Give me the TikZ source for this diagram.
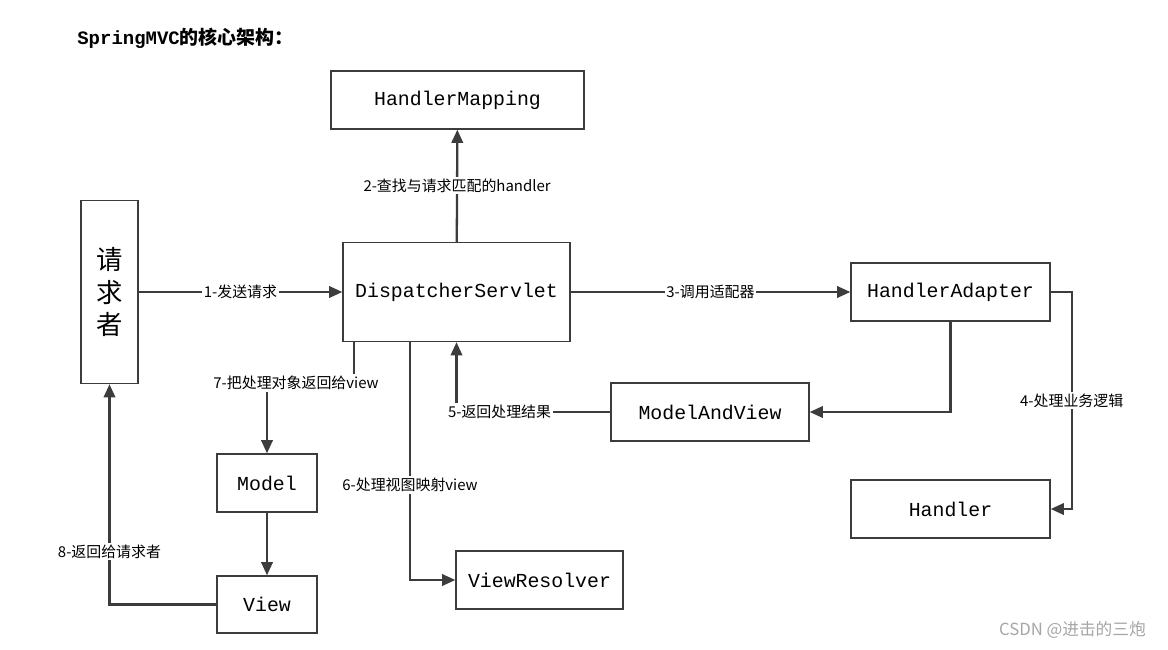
\documentclass[tikz,border=0pt]{standalone}
\usepackage{fontspec}
\usetikzlibrary{arrows.meta}
\setmainfont{Liberation Mono}
\newfontfamily\cjk{Noto Sans CJK SC}
\definecolor{linec}{HTML}{3C3C3C}
\begin{document}
\begin{tikzpicture}[x=0.02cm, y=-0.02cm,
		box/.style = {draw=linec, line width=0.8pt, inner sep=0pt, font=\fontsize{11.3}{13}\selectfont},
		lbl/.style = {fill=white, inner sep=1pt, font=\cjk\fontsize{8.5}{10}\selectfont},
		arr/.style = {draw=linec, line width=1.3pt, -{Triangle[length=7.5pt, width=6.5pt]}}]
			\useasboundingbox[fill=white] (0,0) rectangle (1168,649);
			\node[anchor=west, inner sep=0pt, font=\fontsize{10.8}{12}\selectfont] (title) at (77,38) {\textbf{SpringMVC}{\cjk\bfseries 的核心架构：}};
			\node[box, minimum width=5.06cm, minimum height=1.16cm] (hm) at (457.5,100) {HandlerMapping};
			\node[box, minimum width=1.14cm, minimum height=3.66cm, align=center, font=\cjk\fontsize{15}{18.5}\selectfont] (req) at (109.5,292) {请\\求\\者};
			\node[box, minimum width=4.54cm, minimum height=1.98cm] (ds) at (456.5,292) {DispatcherServlet};
			\node[box, minimum width=3.98cm, minimum height=1.16cm] (ha) at (950.5,292) {HandlerAdapter};
			\node[box, minimum width=3.96cm, minimum height=1.16cm] (mav) at (710,412) {ModelAndView};
			\node[box, minimum width=3.98cm, minimum height=1.16cm] (hd) at (950.5,509) {Handler};
			\node[box, minimum width=2cm, minimum height=1.16cm] (model) at (267,483) {Model};
			\node[box, minimum width=2cm, minimum height=1.14cm] (view) at (267,604.5) {View};
			\node[box, minimum width=3.34cm, minimum height=1.16cm] (vr) at (539.5,580) {ViewResolver};
			\coordinate (c7) at (267,383);
			\draw[arr] (req) -- node[lbl] {1-发送请求} (ds);
			\draw[arr] (ds) -- node[lbl] {2-查找与请求匹配的handler} (hm);
			\draw[arr] (ds) -- node[lbl] {3-调用适配器} (ha);
			\draw[arr] (ha.east) -- ++(0.42cm,0) |- node[lbl, pos=0.25] {4-处理业务逻辑} (hd);
			\draw[arr] (ha) |- (mav);
			\draw[arr] (mav) -| node[lbl, pos=0.36] {5-返回处理结果} (ds);
			\draw[arr] ([xshift=-0.93cm]ds.south) |- node[lbl, pos=0.3] {6-处理视图映射view} (vr);
			\draw[arr] ([xshift=-2.05cm]ds.south) |- (c7) -- (model);
			\node[lbl] (l7) at (296,383) {7-把处理对象返回给view};
			\draw[arr] (view) -| node[lbl, pos=0.62] {8-返回给请求者} (req);
			\draw[arr] (model) -- (view);
			\node[anchor=east, text=gray!70, font=\cjk\fontsize{9.5}{11}\selectfont] (mark) at (1152,630) {CSDN @进击的三炮};
		\end{tikzpicture}
\end{document}
